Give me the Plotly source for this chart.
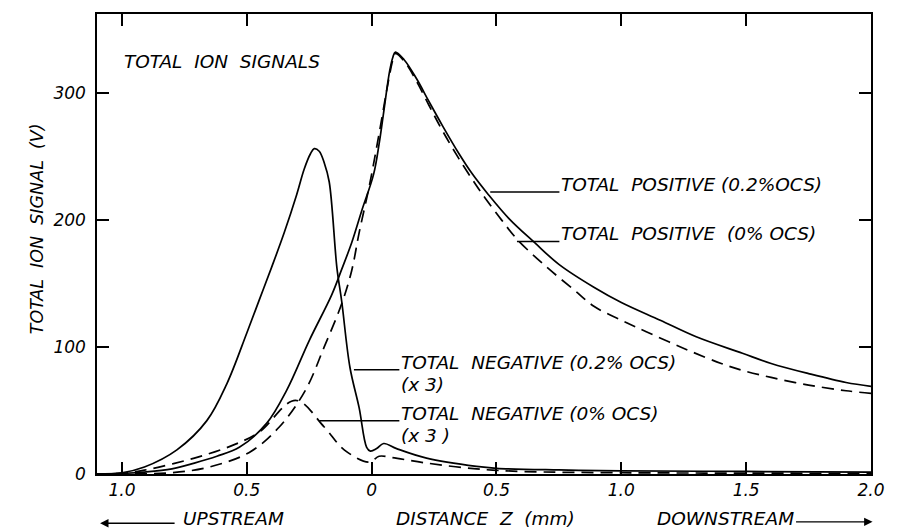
import plotly.graph_objects as go

# Distance along the flow axis (mm); negative = upstream of the nozzle plane
z_neg_02 = [-1.10, -1.00, -0.91, -0.78, -0.66, -0.58, -0.50, -0.45, -0.40, -0.35, -0.30,
            -0.27, -0.245, -0.23, -0.21, -0.19, -0.17, -0.139, -0.12, -0.087, -0.05, -0.02,
            -0.005, 0.02, 0.048, 0.10, 0.22, 0.42, 0.50, 0.75, 1.00, 1.50, 2.00]
sig_neg_02 = [0, 1, 5.5, 19, 42, 71, 111, 137, 163, 190, 220,
              240, 252, 256, 254, 245, 230, 162, 136, 84, 52, 21,
              18, 20, 24, 20, 12.5, 6, 4.5, 3.2, 2.5, 2, 1.5]

z_neg_0 = [-1.10, -1.00, -0.91, -0.71, -0.555, -0.45, -0.305, -0.19, -0.11, -0.01, 0.03,
           0.08, 0.22, 0.42, 0.60, 1.00, 1.50, 2.00]
sig_neg_0 = [0, 0.5, 3, 12.5, 22.7, 33, 58, 37, 19, 9.4, 14,
             13, 8.6, 4, 2, 1, 0.7, 0.5]

z_pos_02 = [-1.10, -1.00, -0.91, -0.80, -0.71, -0.62, -0.53, -0.42, -0.34, -0.25, -0.16,
            -0.12, -0.08, -0.04, 0.008, 0.03, 0.047, 0.072, 0.085, 0.095, 0.13, 0.18,
            0.23, 0.284, 0.35, 0.40, 0.467, 0.55, 0.653, 0.75, 0.89, 1.00, 1.156, 1.30,
            1.485, 1.60, 1.75, 1.90, 2.00]
sig_pos_02 = [0, 0.5, 1.5, 4, 8.6, 14, 21, 40, 66, 105, 141,
              161, 182, 207, 236, 260, 283, 317, 328, 332, 326, 311,
              293, 274, 252, 237, 220, 201, 182, 165, 147, 135, 121, 108,
              95, 87, 79, 72, 69]

z_pos_0 = [-1.10, -0.95, -0.80, -0.65, -0.49, -0.37, -0.265, -0.19, -0.12, -0.08, -0.05,
           -0.008, 0.03, 0.067, 0.085, 0.095, 0.13, 0.18, 0.23, 0.284, 0.35, 0.416,
           0.455, 0.52, 0.586, 0.70, 0.81, 0.89, 1.00, 1.10, 1.26, 1.40, 1.485, 1.60,
           1.75, 1.90, 2.00]
sig_pos_0 = [0, 0.2, 1, 5.5, 17, 37, 66, 100, 134, 160, 190,
             228, 268, 309, 326, 331, 325, 309, 290, 270, 248, 228,
             217, 200, 184, 163, 145, 132, 121, 112, 98, 87, 81.5, 76,
             70, 65.5, 63.5]

x_tick_vals = [-1.0, -0.5, 0, 0.5, 1.0, 1.5, 2.0]
x_tick_text = ["1.0", "0.5", "0", "0.5", "1.0", "1.5", "2.0"]
y_tick_vals = [0, 100, 200, 300]
y_tick_text = ["0", "100", "200", "300"]

FAMILY = "DejaVu Sans"
FONT = dict(family=FAMILY, size=18.5, color="black", style="italic")
TICKFONT = dict(family=FAMILY, size=17, color="black", style="italic")
TITLEFONT = dict(family=FAMILY, size=17.5, color="black", style="italic")
SOLID = dict(color="black", width=1.7, shape="spline", smoothing=1.0)
DASHED = dict(color="black", width=1.7, dash="12px,7px", shape="spline", smoothing=1.0)

fig = go.Figure()
fig.add_trace(go.Scatter(x=z_neg_02, y=sig_neg_02, mode="lines", line=SOLID,
                         name="TOTAL NEGATIVE (0.2% OCS) (x 3)"))
fig.add_trace(go.Scatter(x=z_neg_0, y=sig_neg_0, mode="lines", line=DASHED,
                         name="TOTAL NEGATIVE (0% OCS) (x 3)"))
fig.add_trace(go.Scatter(x=z_pos_02, y=sig_pos_02, mode="lines", line=SOLID,
                         name="TOTAL POSITIVE (0.2% OCS)"))
fig.add_trace(go.Scatter(x=z_pos_0, y=sig_pos_0, mode="lines", line=DASHED,
                         name="TOTAL POSITIVE (0% OCS)"))

axis_common = dict(showgrid=False, zeroline=False, showline=True, linecolor="black",
                   linewidth=1.5, mirror="ticks", ticks="inside", ticklen=12,
                   tickwidth=1.5, tickcolor="black", tickfont=TICKFONT)

fig.update_layout(
    width=897, height=529,
    margin=dict(l=97, r=17, t=12, b=55),
    paper_bgcolor="white", plot_bgcolor="white",
    showlegend=False,
    xaxis=dict(range=[-1.10, 2.0], tickvals=x_tick_vals, ticktext=x_tick_text, **axis_common),
    yaxis=dict(range=[0, 362], tickvals=y_tick_vals, ticktext=y_tick_text,
               ticklabelstandoff=6, **axis_common),
)

# Curve labels with leader lines
labels = [
    # (leader start x, leader end x, leader y, text lines)
    (0.475, 0.752, 222, ["TOTAL  POSITIVE (0.2%OCS)"]),
    (0.582, 0.752, 183, ["TOTAL  POSITIVE  (0% OCS)"]),
    (-0.071, 0.111, 82, ["TOTAL  NEGATIVE (0.2% OCS)", "(x 3)"]),
    (-0.21, 0.111, 42, ["TOTAL  NEGATIVE (0% OCS)", "(x 3 )"]),
]
for x0, x1, yl, lines in labels:
    fig.add_shape(type="line", x0=x0, x1=x1, y0=yl, y1=yl,
                  line=dict(color="black", width=1.5))
    for i, t in enumerate(lines):
        fig.add_annotation(x=x1, y=yl, text=t, showarrow=False, xanchor="left",
                           yanchor="bottom", yshift=-5 - 22 * i, font=FONT)

fig.add_annotation(x=-1.0, y=325, text="TOTAL  ION  SIGNALS", showarrow=False,
                   xanchor="left", yanchor="middle", font=FONT)

# Axis titles and flow-direction arrows
fig.add_annotation(xref="paper", yref="paper", x=-0.093, y=0.532, text="TOTAL  ION  SIGNAL  (V)",
                   textangle=-90, showarrow=False, font=TITLEFONT)
bottom_y = -0.097
fig.add_annotation(xref="paper", yref="paper", x=0.502, y=bottom_y, text="DISTANCE  Z  (mm)",
                   showarrow=False, yanchor="middle", font=FONT)
fig.add_annotation(xref="paper", yref="paper", x=0.108, y=bottom_y, text="UPSTREAM",
                   showarrow=False, xanchor="left", yanchor="middle", font=FONT)
fig.add_annotation(xref="paper", yref="paper", x=0.721, y=bottom_y, text="DOWNSTREAM",
                   showarrow=False, xanchor="left", yanchor="middle", font=FONT)
fig.add_annotation(xref="paper", yref="paper", x=0.004, y=-0.107, ax=76, ay=0,
                   text="", showarrow=True, arrowhead=2, arrowsize=1.2, arrowwidth=1.4,
                   arrowcolor="black")
fig.add_annotation(xref="paper", yref="paper", x=1.002, y=-0.104, ax=-78, ay=0,
                   text="", showarrow=True, arrowhead=2, arrowsize=1.2, arrowwidth=1.4,
                   arrowcolor="black")

fig.write_html("out.html")
